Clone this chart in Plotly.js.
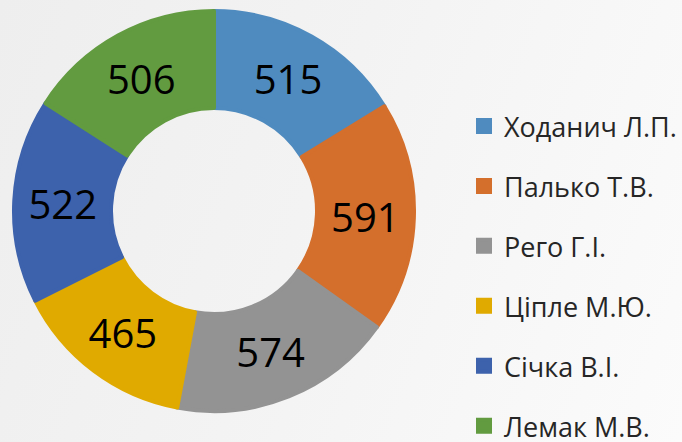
<!DOCTYPE html>
<html>
<head>
<meta charset="utf-8">
<script src="https://cdn.plot.ly/plotly-3.0.1.min.js"></script>
<style>
html,body{margin:0;padding:0;}
body{width:682px;height:442px;overflow:hidden;background:linear-gradient(110deg,#eeeeee 0%,#f3f3f3 45%,#fbfbfb 100%);}
#chart{width:682px;height:442px;}
</style>
</head>
<body>
<div id="chart"></div>
<script>
var names = ["Ходанич Л.П.", "Палько Т.В.", "Рего Г.І.", "Ціпле М.Ю.", "Січка В.І.", "Лемак М.В."];
var values = [515, 591, 574, 465, 522, 506];
var colors = ["#4F8BBF", "#D46F2C", "#939393", "#E0AA00", "#3D62AC", "#629B40"];

// legend entries: pad each label with blank lines so rows are spaced like the reference
var legendLabels = names.map(function (n) {
  return " <br> <br><span style='font-size:27px'>" + n + "</span><br> ";
});

var trace = {
  type: "pie",
  labels: legendLabels,
  values: values,
  sort: false,
  direction: "clockwise",
  rotation: 0,
  hole: 0.515,
  textinfo: "value",
  textposition: "inside",
  insidetextorientation: "horizontal",
  textfont: {family: "Open Sans", size: 40, color: "#000000"},
  marker: {colors: colors, line: {color: colors, width: 4}},
  domain: {x: [14 / 682, 414 / 682], y: [31 / 442, 431 / 442]},
  hoverinfo: "none"
};

var layout = {
  width: 682,
  height: 442,
  margin: {l: 0, r: 0, t: 0, b: 0, autoexpand: false},
  paper_bgcolor: "rgba(0,0,0,0)",
  plot_bgcolor: "rgba(0,0,0,0)",
  showlegend: true,
  legend: {
    x: 464 / 682,
    xanchor: "left",
    y: 1 - 91 / 442,
    yanchor: "top",
    maxheight: 600,
    font: {family: "Open Sans", size: 10.95, color: "#262626"},
    bgcolor: "rgba(0,0,0,0)",
    borderwidth: 0
  },
  font: {family: "Open Sans"}
};

Plotly.newPlot("chart", [trace], layout, {displayModeBar: false, staticPlot: true});
</script>
</body>
</html>
